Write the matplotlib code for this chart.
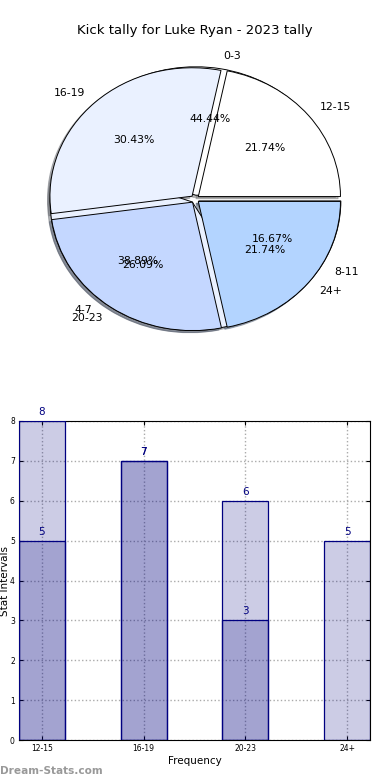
import matplotlib.pyplot as plt

# pie 1: kick tallies by interval
intervals_a = ['12-15', '16-19', '20-23', '24+']
counts_a = [5, 7, 6, 5]

# pie 2: second tally
intervals_b = ['0-3', '4-7', '8-11']
counts_b = [8, 7, 3]

# bar chart categories
bar_labels = ['12-15', '16-19', '20-23', '24+']

pie_colors = ['#ffffff', '#eaf1ff', '#c4d7ff', '#b3d4ff']

fig = plt.figure(figsize = (3.9, 7.8), dpi = 100)

fig.text(0.5, 0.961, 'Kick tally for Luke Ryan - 2023 tally', ha = 'center', va = 'center', fontsize = 9.5)

# pie axes, placed so the pie is slightly squashed like the original
ax1 = fig.add_axes([0.0, 1 - 360 / 780, 1.0, 320 / 780])

wedge_props = {'edgecolor': 'black', 'linewidth': 0.7}
shadow_props = {'ox': -0.012, 'oy': -0.012, 'shade': 0.55}

ax1.pie(counts_b, labels = intervals_b, colors = pie_colors[:3], autopct = '%1.2f%%',
        explode = [0.03] * len(counts_b), shadow = shadow_props, wedgeprops = wedge_props,
        textprops = {'fontsize': 7.8})

ax1.pie(counts_a, labels = intervals_a, colors = pie_colors, autopct = '%1.2f%%',
        explode = [0.03] * len(counts_a), shadow = shadow_props, wedgeprops = wedge_props,
        textprops = {'fontsize': 7.8})

ax1.set_aspect('auto')
ax1.set_xlim(-1.02 * 195 / 145, 1.02 * 195 / 145)
ax1.set_ylim(-1.02 * 161 / 131, 1.02 * 159 / 131)
ax1.axis('off')

# bar chart
ax2 = fig.add_axes([19 / 390, 40 / 780, 351 / 390, 319 / 780])

x = list(range(len(bar_labels)))
bar_width = 0.45

for series in [counts_a, counts_b]:
    xs = x[:len(series)]
    ax2.bar(xs, series, width = bar_width, color = 'navy', alpha = 0.2, zorder = 2)
    ax2.bar(xs, series, width = bar_width, facecolor = 'none', edgecolor = 'navy', linewidth = 0.9, zorder = 3)
    for xi, val in zip(xs, series):
        ax2.text(xi, val + 0.1, str(val), ha = 'center', va = 'bottom', color = 'navy', fontsize = 7.5)

ax2.set_xlim(-bar_width / 2, len(bar_labels) - 1 + bar_width / 2)
ax2.set_ylim(0, 8)
ax2.set_xticks(x)
ax2.set_xticklabels(bar_labels)
ax2.set_yticks(range(0, 9))
ax2.tick_params(axis = 'both', labelsize = 5.5, direction = 'in', length = 3, top = True, right = True, pad = 3)
ax2.grid(True, linestyle = ':', color = '#aaaaaa', linewidth = 1.0, zorder = 0)
ax2.set_axisbelow(True)

ax2.set_xlabel('Frequency', fontsize = 7.5, labelpad = 2)
ax2.set_ylabel('Stat Intervals', fontsize = 7.5, labelpad = 0)

fig.text(0.0, 0.012, 'Dream-Stats.com', fontsize = 7.6, color = '#999999', weight = 'bold', ha = 'left', va = 'center')

plt.savefig('out.png', dpi = 100)
